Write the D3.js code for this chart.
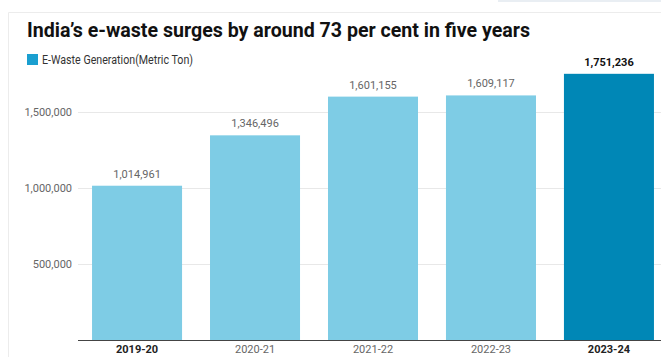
<!DOCTYPE html>
<html>
<head>
<meta charset="utf-8">
<script src="https://cdn.jsdelivr.net/npm/d3@7"></script>
<style>
  body { margin: 0; background: #fff; }
  svg { display: block; font-family: Roboto, "Noto Sans", sans-serif; }
</style>
</head>
<body>
<svg width="661" height="357"></svg>
<script>
// data
var years = ["2019-20", "2020-21", "2021-22", "2022-23", "2023-24"];
var ewaste = [1014961, 1346496, 1601155, 1609117, 1751236];
var highlight = ["2019-20", "2023-24"];   // bold axis labels
var yTicks = [500000, 1000000, 1500000];

var width = 661;
var height = 357;
var svg = d3.select('svg');

// card frame
svg.append('rect')
    .attr('x', 498).attr('y', 0)
    .attr('width', 163).attr('height', 2)
    .attr('fill', '#e9eef3');
svg.append('path')
    .attr('d', 'M8.5,' + height + 'V12.5H' + width)
    .attr('fill', 'none')
    .attr('stroke', '#ececec');

svg.append('text')
    .attr('x', 27)
    .attr('y', 37)
    .attr('font-size', 20)
    .attr('font-weight', 'bold')
    .attr('fill', '#111')
    .attr('textLength', 503)
    .attr('lengthAdjust', 'spacingAndGlyphs')
    .text('India\u2019s e-waste surges by around 73 per cent in five years');

// legend
svg.append('rect')
    .attr('x', 27).attr('y', 54)
    .attr('width', 11).attr('height', 11)
    .attr('fill', '#1a9fd0');
svg.append('text')
    .attr('x', 42)
    .attr('y', 64)
    .attr('font-size', 12)
    .attr('fill', '#333')
    .attr('textLength', 151)
    .attr('lengthAdjust', 'spacingAndGlyphs')
    .text('E-Waste Generation(Metric Ton)');

var x = d3.scaleBand()
    .domain(years)
    .range([78, 668])
    .paddingInner(0.237)
    .paddingOuter(0.119);

var y = d3.scaleLinear()
    .domain([0, 2000000])
    .range([340, 36]);

var fmt = d3.format(',');

// gridlines + tick labels
var yAxis = d3.axisLeft(y)
    .tickValues(yTicks)
    .tickFormat(fmt)
    .tickSize(-(width - 78))
    .tickPadding(6);

var gy = svg.append('g')
    .attr('transform', 'translate(78,0)')
    .call(yAxis);
gy.select('.domain').remove();
gy.selectAll('.tick line').attr('stroke', '#e8e8e8');
gy.selectAll('.tick text')
    .attr('font-size', 11)
    .attr('fill', '#666')
    .attr('font-family', 'Roboto, sans-serif');

// bars
svg.selectAll('rect.bar')
    .data(years)
    .enter()
    .append('rect')
    .attr('class', 'bar')
    .attr('x', function(d) { return x(d); })
    .attr('width', x.bandwidth())
    .attr('y', function(d, i) { return y(ewaste[i]); })
    .attr('height', function(d, i) { return y(0) - y(ewaste[i]); })
    .attr('fill', function(d, i) {
        return i == years.length - 1 ? '#0087b6' : '#7ecce5';
    });

// value labels
svg.selectAll('text.val')
    .data(years)
    .enter()
    .append('text')
    .attr('class', 'val')
    .attr('x', function(d) { return x(d) + x.bandwidth() / 2; })
    .attr('y', function(d, i) { return y(ewaste[i]) - 8; })
    .attr('text-anchor', 'middle')
    .attr('font-size', 11)
    .attr('font-weight', function(d, i) { return i == years.length - 1 ? 'bold' : 'normal'; })
    .attr('fill', function(d, i) { return i == years.length - 1 ? '#111' : '#666'; })
    .text(function(d, i) { return fmt(ewaste[i]); });

// x axis
var xAxis = d3.axisBottom(x).tickSize(0).tickPadding(5);
var gx = svg.append('g')
    .attr('transform', 'translate(0,340)')
    .call(xAxis);
gx.select('.domain').remove();
svg.append('line')
    .attr('x1', 78).attr('x2', width)
    .attr('y1', 340.5).attr('y2', 340.5)
    .attr('stroke', '#444');
gx.selectAll('.tick text')
    .attr('font-size', 11)
    .attr('font-family', 'Roboto, sans-serif')
    .attr('font-weight', function(d) { return highlight.indexOf(d) >= 0 ? 'bold' : 'normal'; })
    .attr('fill', function(d) { return highlight.indexOf(d) >= 0 ? '#222' : '#666'; });
</script>
</body>
</html>
